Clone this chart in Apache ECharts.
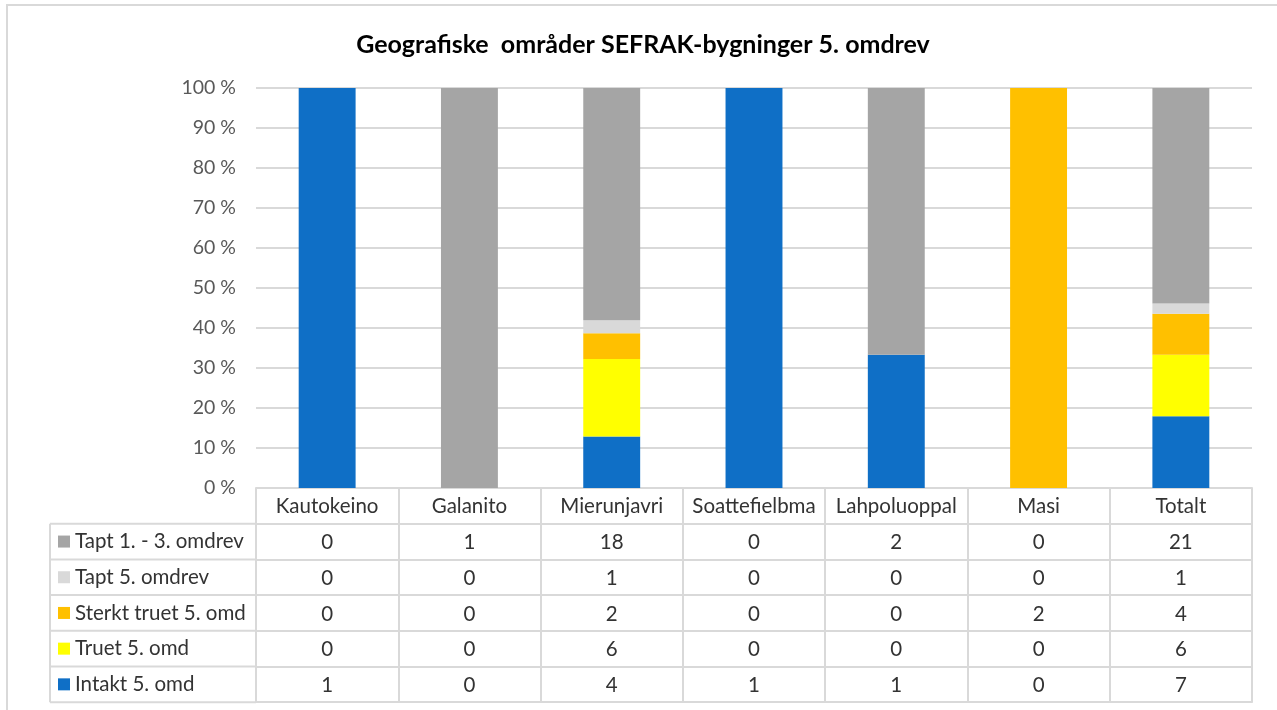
<!DOCTYPE html>
<html>
<head>
    <meta charset="utf-8">
    <title>Geografiske områder SEFRAK</title>
    <script src="https://cdn.jsdelivr.net/npm/echarts@6/dist/echarts.min.js"></script>
    <style>
        html, body { margin: 0; padding: 0; background: #fff; }
    </style>
</head>
<body>
    <div id="main" style="width: 1277px;height:710px;"></div>
    <script type="text/javascript">
var categories = ['Kautokeino', 'Galanito', 'Mierunjavri', 'Soattefielbma', 'Lahpoluoppal', 'Masi', 'Totalt']
// antall bygninger per område (rekkefølge nedenfra og opp i stabelen)
var intakt = [1, 0, 4, 1, 1, 0, 7]
var truet = [0, 0, 6, 0, 0, 0, 6]
var sterktTruet = [0, 0, 2, 0, 0, 2, 4]
var tapt5 = [0, 0, 1, 0, 0, 0, 1]
var tapt13 = [0, 1, 18, 0, 2, 0, 21]
var seriesNames = ['Intakt 5. omd', 'Truet 5. omd', 'Sterkt truet 5. omd', 'Tapt 5. omdrev', 'Tapt 1. - 3. omdrev']
var yTicks = [0, 10, 20, 30, 40, 50, 60, 70, 80, 90, 100]

var colors = ['#0F6FC6', '#FFFF00', '#FFC000', '#D9D9D9', '#A5A5A5']
var allRows = [intakt, truet, sterktTruet, tapt5, tapt13]

var GRID_LEFT = 256
var GRID_RIGHT = 25
var GRID_TOP = 88
var AXIS_Y = 488
var ROW_H = 35.7
var TABLE_LEFT = 50
var LINE = '#D9D9D9'
var FONT = 'Lato'
var TXT = '#333333'

var totals = categories.map(function (c, i) {
  var s = 0
  allRows.forEach(function (r) { s += r[i] })
  return s
})

var series = allRows.map(function (row, k) {
  return {
    name: seriesNames[k],
    type: 'bar',
    stack: 'total',
    barWidth: '40%',
    itemStyle: { color: colors[k] },
    data: row.map(function (v, i) { return totals[i] ? v / totals[i] * 100 : 0 })
  }
})

// tabellrader fra toppen: Tapt 1.-3., Tapt 5., Sterkt truet, Truet, Intakt
var tableOrder = [4, 3, 2, 1, 0]

var cellLabel = { interval: 0, margin: ROW_H / 2 + 1, verticalAlign: 'middle', color: TXT, fontSize: 20.5, fontFamily: FONT }
var xAxes = [{
  type: 'category',
  data: categories,
  position: 'bottom',
  axisLine: { show: true, lineStyle: { color: LINE, width: 2 } },
  axisTick: { show: true, interval: 0, alignWithLabel: false, length: ROW_H, lineStyle: { color: LINE, width: 2 } },
  axisLabel: cellLabel
}]
tableOrder.forEach(function (k, r) {
  xAxes.push({
    type: 'category',
    data: allRows[k].map(String),
    position: 'bottom',
    offset: (r + 1) * ROW_H,
    axisLine: { show: true, lineStyle: { color: LINE, width: 2 } },
    axisTick: { show: true, interval: 0, alignWithLabel: false, length: ROW_H, lineStyle: { color: LINE, width: 2 } },
    axisLabel: cellLabel
  })
})
xAxes.push({
  type: 'category',
  data: categories,
  position: 'bottom',
  offset: 6 * ROW_H,
  axisLine: { show: true, lineStyle: { color: LINE, width: 2 } },
  axisTick: { show: false },
  axisLabel: { show: false }
})

var legends = tableOrder.map(function (k, r) {
  return {
    data: [seriesNames[k]],
    left: TABLE_LEFT + 8,
    top: AXIS_Y + (r + 1.5) * ROW_H - 11,
    padding: 0,
    itemWidth: 12,
    itemHeight: 12,
    itemGap: 0,
    icon: 'rect',
    selectedMode: false,
    textStyle: { color: TXT, fontSize: 20.5, fontFamily: FONT, lineHeight: 22 }
  }
})

var graphics = [{
  type: 'polyline',
  shape: { points: [[7, 710], [7, 5], [1277, 5]] },
  style: { stroke: LINE, lineWidth: 2, fill: null }
}, {
  type: 'line',
  shape: { x1: TABLE_LEFT, y1: AXIS_Y + ROW_H, x2: TABLE_LEFT, y2: AXIS_Y + 6 * ROW_H },
  style: { stroke: LINE, lineWidth: 2 }
}]
for (var r = 1; r <= 6; r++) {
  graphics.push({
    type: 'line',
    shape: { x1: TABLE_LEFT, y1: AXIS_Y + r * ROW_H, x2: GRID_LEFT, y2: AXIS_Y + r * ROW_H },
    style: { stroke: LINE, lineWidth: 2 }
  })
}

var myChart = echarts.init(document.getElementById('main'))
var option = {
  backgroundColor: '#fff',
  animation: false,
  title: {
    text: 'Geografiske  områder SEFRAK-bygninger 5. omdrev',
    left: 638,
    textAlign: 'center',
    top: 27,
    textStyle: { color: '#000', fontSize: 25, fontWeight: 'bold', fontFamily: FONT }
  },
  grid: {
    left: GRID_LEFT,
    right: GRID_RIGHT,
    top: GRID_TOP,
    bottom: 710 - AXIS_Y,
    containLabel: false
  },
  legend: legends,
  xAxis: xAxes,
  yAxis: {
    type: 'value',
    min: yTicks[0],
    max: yTicks[yTicks.length - 1],
    interval: 10,
    axisLine: { show: false },
    axisTick: { show: false },
    axisLabel: { margin: 20, color: '#595959', fontSize: 19.5, fontFamily: FONT, formatter: '{value} %' },
    splitLine: { lineStyle: { color: LINE, width: 2 } }
  },
  series: series,
  graphic: graphics
}
myChart.setOption(option)
    </script>
</body>
</html>
